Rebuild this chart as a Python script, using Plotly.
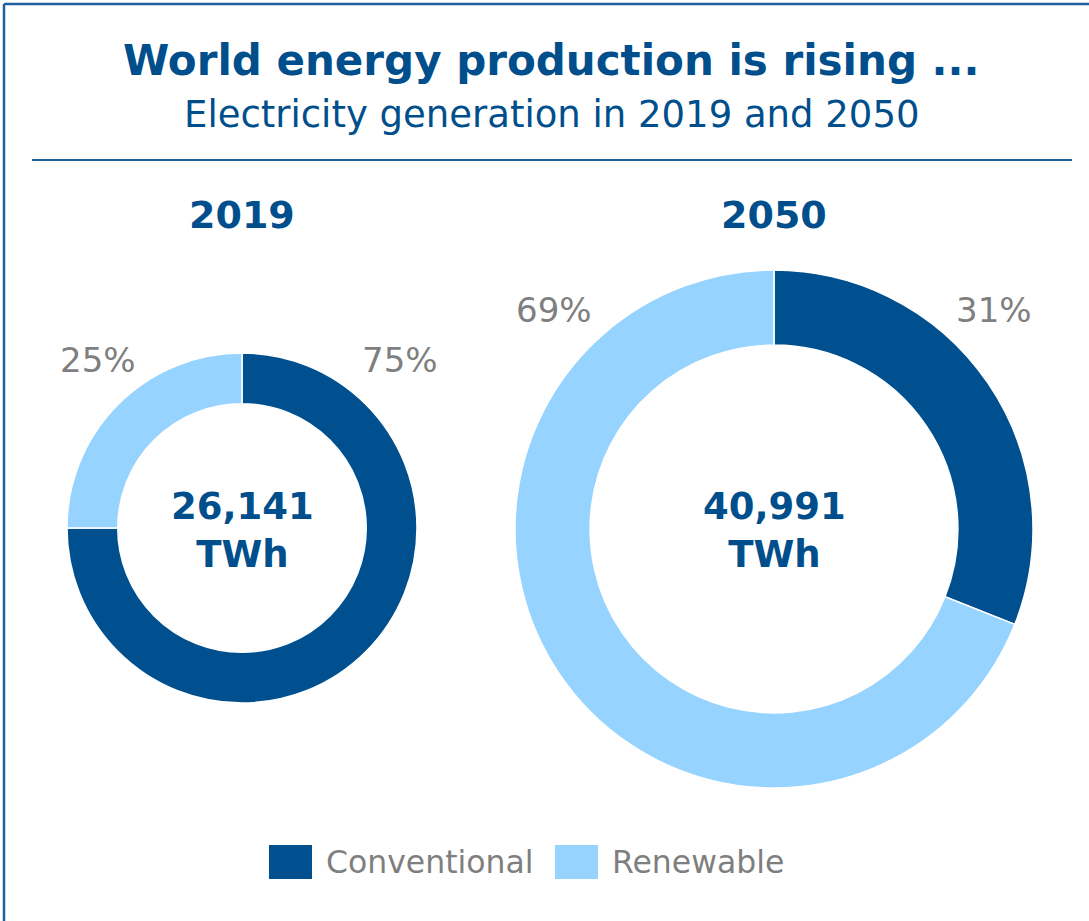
import plotly.graph_objects as go

# Electricity generation shares (%) and totals (TWh)
years = ["2019", "2050"]
sources = ["Conventional", "Renewable"]
share_2019 = [75, 25]
share_2050 = [31, 69]
total_twh = [26141, 40991]

colors = ["#00508F", "#96D3FF"]
navy = "#004F8C"
grey = "#7F7F7F"
font = "DejaVu Sans"

W, H = 1089, 921


def dom(cx, cy, r):
    """Paper-domain box for a donut centred at pixel (cx, cy) with radius r."""
    return dict(x=[(cx - r) / W, (cx + r) / W],
                y=[(H - cy - r) / H, (H - cy + r) / H])


donuts = [
    dict(values=share_2019, cx=242, cy=528, r=175),
    dict(values=share_2050, cx=774, cy=529, r=259),
]

fig = go.Figure()
for d in donuts:
    fig.add_trace(go.Pie(
        labels=sources, values=d["values"], hole=0.71,
        sort=False, direction="clockwise", rotation=0,
        marker=dict(colors=colors, line=dict(color="white", width=1.5)),
        textinfo="none", hoverinfo="label+percent",
        domain=dom(d["cx"], d["cy"], d["r"]), showlegend=False,
    ))


def px(x, y):
    return x / W, 1 - y / H


ann = []


def text(x, y, s, size, color, bold=False, xanchor="center"):
    xp, yp = px(x, y)
    ann.append(dict(x=xp, y=yp, xref="paper", yref="paper", text=f"<b>{s}</b>" if bold else s,
                    showarrow=False, xanchor=xanchor, yanchor="middle",
                    font=dict(family=font, size=size, color=color)))


text(551, 60, "World energy production is rising ...", 42, navy, bold=True)
text(551, 114, "Electricity generation in 2019 and 2050", 37, navy)

for yr, d, tot in zip(years, donuts, total_twh):
    text(d["cx"], 215, yr, 38, navy, bold=True)
    text(d["cx"], 530, f"{tot:,}<br>TWh", 37, navy, bold=True)

# share labels at the upper corners of each ring
text(400, 360, f"{share_2019[0]}%", 34, grey)
text(98, 360, f"{share_2019[1]}%", 34, grey)
text(994, 310, f"{share_2050[0]}%", 34, grey)
text(554, 310, f"{share_2050[1]}%", 34, grey)

# legend
shapes = []
legend_items = [(269, 324), (555, 610)]
for (sx, tx), lab, col in zip(legend_items, sources, colors):
    x0, y0 = px(sx, 845)
    x1, y1 = px(sx + 43, 879)
    shapes.append(dict(type="rect", xref="paper", yref="paper", x0=x0, x1=x1, y0=y1, y1=y0,
                       fillcolor=col, line=dict(width=0)))
    text(tx, 862, lab, 31.5, grey, xanchor="left")

# frame and rule
line_col = "#1F5F9E"
shapes.append(dict(type="line", xref="paper", yref="paper", x0=4 / W, x1=1, y0=1 - 4 / H, y1=1 - 4 / H,
                   line=dict(color=line_col, width=2.5)))
shapes.append(dict(type="line", xref="paper", yref="paper", x0=4 / W, x1=4 / W, y0=0, y1=1 - 4 / H,
                   line=dict(color=line_col, width=2.5)))
shapes.append(dict(type="line", xref="paper", yref="paper", x0=32 / W, x1=1072 / W, y0=1 - 160 / H,
                   y1=1 - 160 / H, line=dict(color=line_col, width=2)))

fig.update_layout(
    width=W, height=H, margin=dict(l=0, r=0, t=0, b=0),
    paper_bgcolor="white", plot_bgcolor="white",
    annotations=ann, shapes=shapes, showlegend=False,
)

fig.write_html("out.html")
